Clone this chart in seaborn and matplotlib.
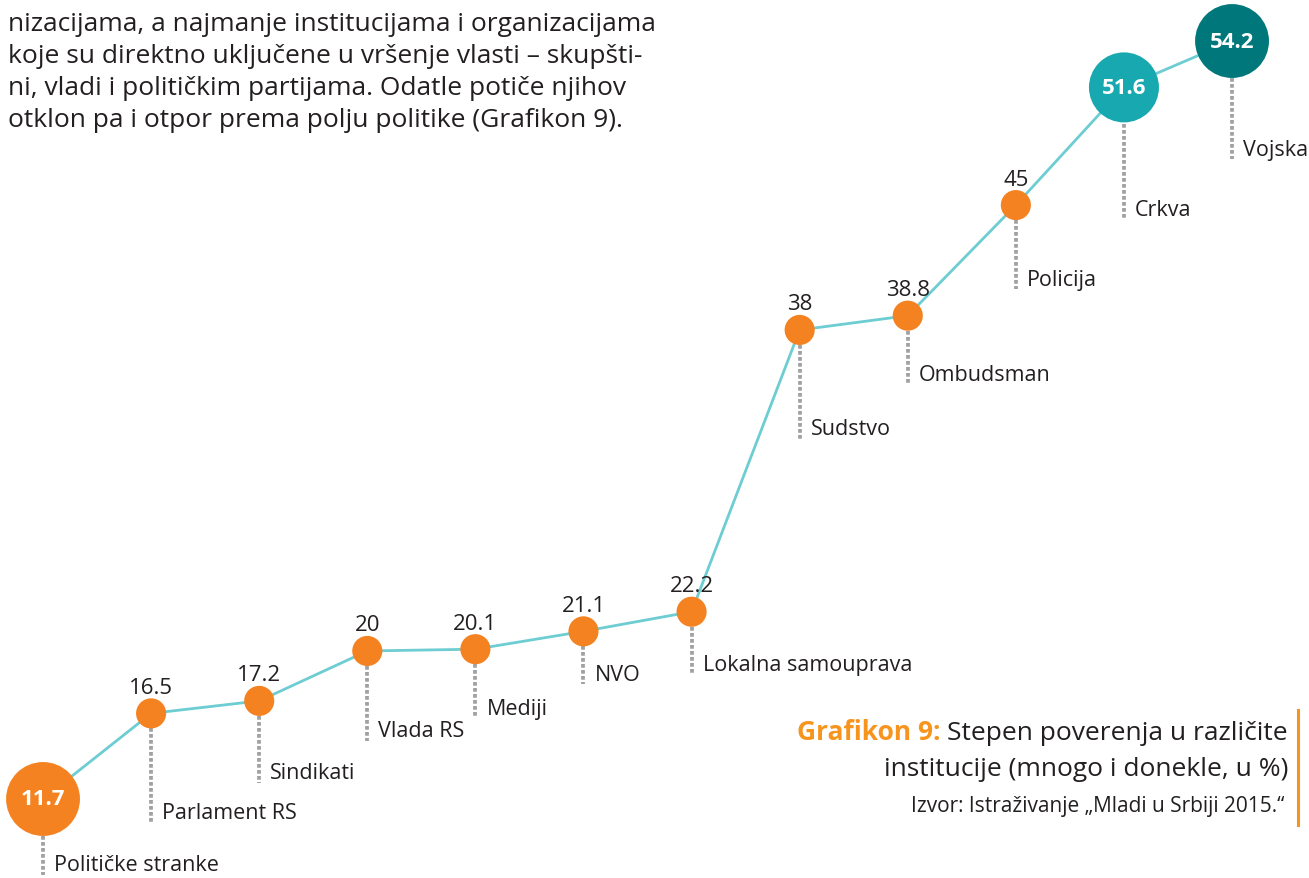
import matplotlib
matplotlib.use("Agg")
import matplotlib.pyplot as plt
import seaborn as sns
import pandas as pd

# -------------------------------
# Data
# -------------------------------

institutions = ["Političke stranke", "Parlament RS", "Sindikati", "Vlada RS", "Mediji", "NVO",
                "Lokalna samouprava", "Sudstvo", "Ombudsman", "Policija", "Crkva", "Vojska"]
trust = [11.7, 16.5, 17.2, 20, 20.1, 21.1, 22.2, 38, 38.8, 45, 51.6, 54.2]

paragraph = [
    "nizacijama, a najmanje institucijama i organizacijama",
    "koje su direktno uključene u vršenje vlasti – skupšti-",
    "ni, vladi i političkim partijama. Odatle potiče njihov",
    "otklon pa i otpor prema polju politike (Grafikon 9).",
]
caption_bold = "Grafikon 9:"
caption_lines = ["Stepen poverenja u različite", "institucije (mnogo i donekle, u %)"]
source = "Izvor: Istraživanje „Mladi u Srbiji 2015.“"

# -------------------------------
# Styles
# -------------------------------

ORANGE = "#F58220"
CAPTION_ORANGE = "#F7941D"
CRKVA = "#17A9AF"
VOJSKA = "#00777A"
LINE = "#6DCDD2"
GREY = "#9FA1A4"
TEXT = "#231F20"

big = {"Političke stranke": ORANGE, "Crkva": CRKVA, "Vojska": VOJSKA}
colors = {n: big.get(n, ORANGE) for n in institutions}
sizes = {n: 470 for n in institutions}
sizes.update({"Političke stranke": 2830, "Crkva": 2540, "Vojska": 2830})
# distance (px) from dot centre down to the label
label_drop = [66, 99, 72, 80, 59, 43, 53, 99, 59, 74, 122, 108]

plt.rcParams["font.family"] = ["Open Sans", "DejaVu Sans"]

df = pd.DataFrame({"pos": range(len(institutions)), "institution": institutions, "trust": trust})

W, H = 1309, 879
fig = plt.figure(figsize=(W / 100, H / 100), dpi=100)
ax = fig.add_axes([0, 0, 1, 1])
ax.set_xlim(-0.398, 11.712)
ax.set_ylim(7.27, 56.556)
ax.axis("off")

sns.lineplot(data=df, x="pos", y="trust", color=LINE, lw=2, ax=ax, zorder=1)
sns.scatterplot(data=df, x="pos", y="trust", hue="institution", palette=colors,
                size="institution", sizes=sizes, linewidth=0, legend=False, ax=ax, zorder=3)

for i, (name, v) in enumerate(zip(institutions, trust)):
    is_big = name in big
    r_px = 37 if is_big else 15
    drop = label_drop[i]
    # dotted leader line, drawn in pixel space below the dot
    px, py = ax.transData.transform((i, v))
    ax.add_line(plt.Line2D([px, px], [py - r_px, py - drop - 10], transform=None,
                           color=GREY, lw=2.7, dashes=(1.0, 0.6), zorder=2))
    ax.annotate(name, xy=(i, v), xytext=(11, -drop), textcoords="offset pixels",
                ha="left", va="center", fontsize=15.5, color=TEXT)
    if is_big:
        ax.text(i, v, f"{v:g}", ha="center", va="center", fontsize=16,
                fontweight="bold", color="white", zorder=4)
    else:
        ax.annotate(f"{v:g}", xy=(i, v), xytext=(0, 26), textcoords="offset pixels",
                    ha="center", va="center", fontsize=16, color=TEXT)

# -------------------------------
# Paragraph and caption
# -------------------------------

for k, line in enumerate(paragraph):
    fig.text(8 / W, 1 - (31 + 32 * k) / H, line, ha="left", va="baseline",
             fontsize=19, color=TEXT)

t1 = fig.text(1288 / W, 1 - 740 / H, caption_lines[0], ha="right", va="baseline",
              fontsize=19, color=TEXT)
fig.text(1288 / W, 1 - 776 / H, caption_lines[1], ha="right", va="baseline",
         fontsize=19, color=TEXT)
fig.text(1284 / W, 1 - 812 / H, source, ha="right", va="baseline",
         fontsize=15, color=TEXT)

fig.canvas.draw()
bb = t1.get_window_extent(fig.canvas.get_renderer())
fig.text((bb.x0 - 7) / W, 1 - 740 / H, caption_bold, ha="right", va="baseline",
         fontsize=19, fontweight="bold", color=CAPTION_ORANGE)

fig.add_artist(plt.Line2D([1298 / W, 1298 / W], [1 - 711 / H, 1 - 826 / H],
                          color=CAPTION_ORANGE, lw=2.2))

fig.savefig("out.png", dpi=100)
